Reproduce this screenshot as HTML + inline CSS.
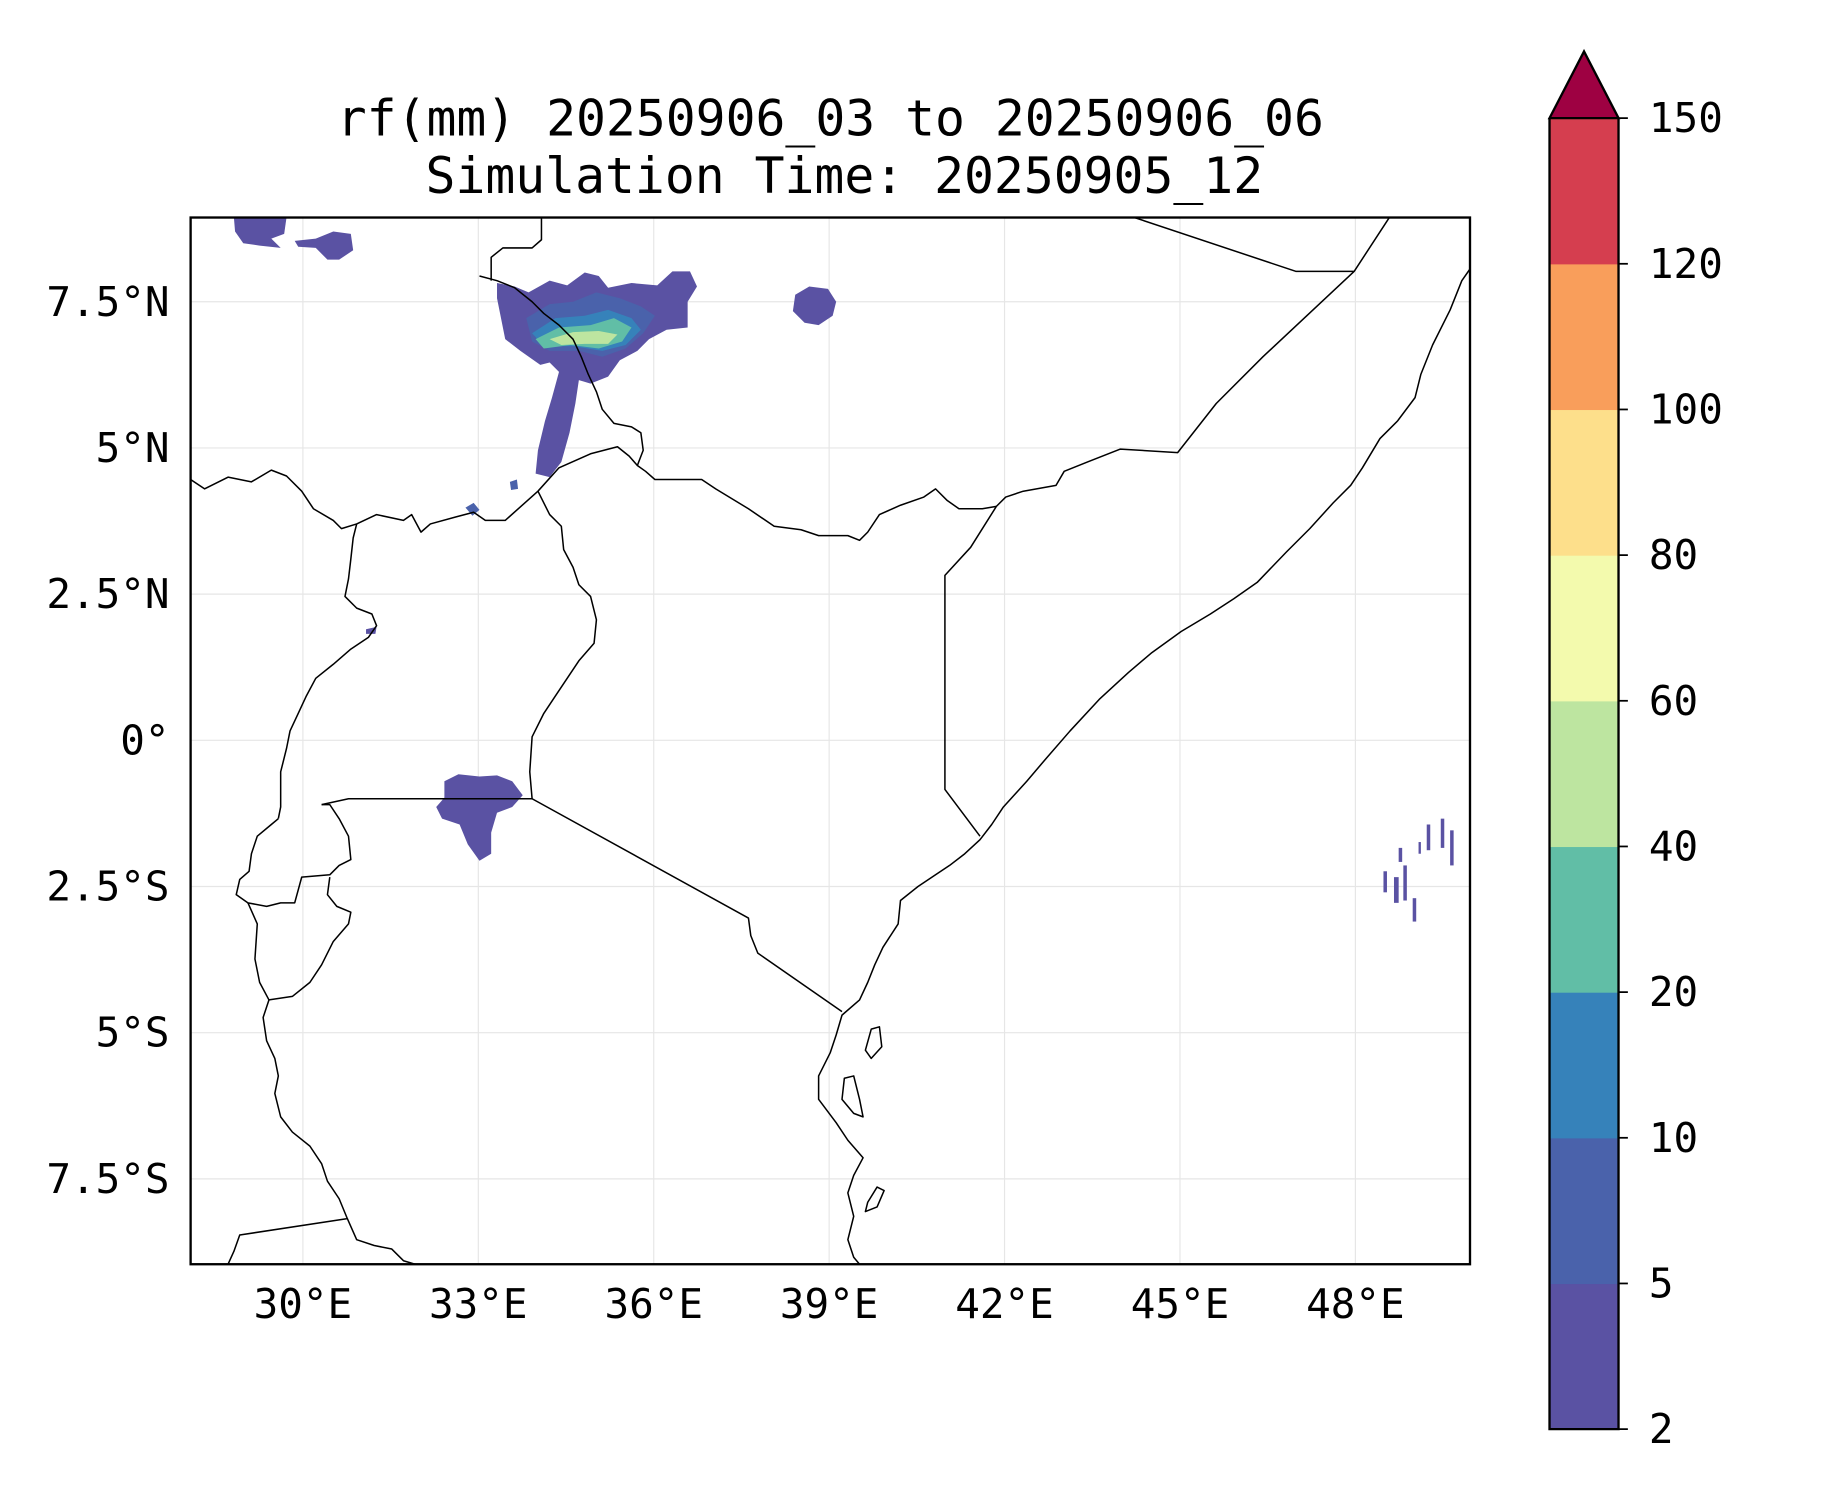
<!DOCTYPE html>
<html><head><meta charset="utf-8"><style>
html,body{margin:0;padding:0;background:#fff;}
svg{display:block;font-family:"DejaVu Sans Mono","Liberation Mono",monospace;}
</style></head><body>
<svg id="fig" width="1833" height="1500" viewBox="0 0 1567.4 1282.6" preserveAspectRatio="none" xmlns="http://www.w3.org/2000/svg">
<rect width="1580" height="1290" fill="#fff"/>
<g font-size="42.5" text-anchor="middle" fill="#000">
<text x="710" y="116">rf(mm) 20250906_03 to 20250906_06</text>
<text x="722" y="165">Simulation Time: 20250905_12</text>
</g>
<defs><clipPath id="mapclip"><rect x="163" y="186" width="1094" height="895"/></clipPath></defs>
<g id="grid" stroke="#e6e6e6" stroke-width="1"></g>
<g clip-path="url(#mapclip)">
<g>
<path fill="#5a52a3" d="M200,186 L245,186 L243,200 L232,204 L240,212 L222,210 L208,208 L201,198Z"/>
<path fill="#5a52a3" d="M252,206 L270,204 L285,198 L300,200 L302,214 L290,222 L280,222 L270,212 L255,211Z"/>
<path fill="#5a52a3" d="M425,242 L440,245 L452,250 L470,240 L485,244 L500,233 L512,236 L520,246 L540,242 L562,244 L575,232 L590,232 L596,245 L588,258 L588,280 L570,282 L555,290 L545,300 L530,308 L520,322 L505,328 L495,325 L492,345 L487,370 L480,395 L470,408 L458,405 L460,385 L466,360 L472,340 L478,318 L470,310 L462,312 L445,300 L432,290 L428,270 L425,255Z"/>
<path fill="#4a62ab" d="M450,272 L470,260 L490,258 L510,250 L530,255 L548,262 L560,270 L550,285 L535,298 L515,305 L495,300 L470,300 L455,292Z"/>
<path fill="#3682ba" d="M455,285 L475,272 L500,270 L520,265 L540,272 L548,282 L535,295 L515,300 L490,296 L465,296Z"/>
<path fill="#61bea6" d="M458,290 L478,280 L505,278 L525,272 L540,280 L532,292 L512,298 L488,295 L465,298Z"/>
<path fill="#bde5a0" d="M470,290 L490,284 L512,283 L528,286 L520,294 L500,294 L480,295Z"/>
<path fill="#5a52a3" d="M680,252 L692,245 L708,247 L715,258 L712,270 L700,278 L688,276 L678,266Z"/>
<path fill="#5a52a3" d="M380,668 L392,662 L410,664 L425,663 L438,668 L447,680 L438,690 L425,695 L420,712 L420,730 L410,736 L400,722 L393,705 L378,700 L373,690 L380,682Z"/>
<path fill="#4a62ab" d="M398,434 L405,430 L410,436 L404,441Z"/>
<path fill="#4a62ab" d="M436,412 L442,410 L443,418 L437,419Z"/>
<path fill="#5a52a3" d="M313,538 L322,536 L321,542 L313,542Z"/>
<g fill="#5a52a3">
<rect x="1183" y="745" width="3" height="18"/><rect x="1192" y="750" width="4" height="22"/><rect x="1200" y="740" width="3" height="30"/><rect x="1208" y="768" width="3" height="20"/><rect x="1220" y="705" width="3" height="22"/><rect x="1232" y="700" width="3" height="25"/><rect x="1240" y="710" width="3" height="30"/><rect x="1196" y="725" width="3" height="12"/><rect x="1213" y="720" width="2" height="10"/>
</g>
</g>
<g fill="none" stroke="#000" stroke-width="1.3" stroke-linejoin="round">
<path d="M1257,230 L1250,240 L1240,265 L1225,295 L1215,320 L1210,340 L1195,360 L1180,375 L1165,400 L1155,415 L1140,430 L1120,452 L1100,472 L1075,498 L1055,512 L1035,525 L1010,540 L985,558 L965,575 L940,598 L915,625 L895,648 L878,668 L858,690 L848,705 L838,718 L825,730 L812,740 L800,748 L785,758 L770,770 L768,790 L755,810 L748,825 L742,840 L735,855 L720,868 L715,885 L710,900 L700,920 L700,940 L715,960 L725,975 L738,990 L730,1005 L725,1020 L730,1040 L725,1060 L730,1075 L735,1081"/>
<path d="M745,880 L752,878 L754,895 L745,905 L740,898Z M722,922 L730,920 L735,940 L738,955 L730,952 L720,940Z M742,1028 L750,1015 L756,1018 L750,1032 L740,1036Z"/>
<path d="M1188,186 L1158,232 L1108,232 L970,186 M1158,232 L1080,305 L1040,345 L1007,387 L958,384 L930,395 L910,403 L903,415 L875,420 L860,425 L852,433 L830,468 L808,492 L808,675 L838,715"/>
<path d="M852,433 L840,435 L820,435 L810,428 L800,418 L790,425 L770,432 L752,440 L742,455 L735,462 L725,458 L700,458 L685,453 L662,450 L640,435 L612,418 L600,410 L560,410 L552,403 L545,398 L538,390 L528,382 L505,388 L478,400 L460,420"/>
<path d="M545,398 L550,385 L548,370 L540,365 L525,362 L515,350 L510,335 L503,320 L497,305 L490,290 L478,278 L465,268 L455,258 L440,246 L425,240 L410,236 M420,240 L420,220 L430,212 L455,212 L463,205 L463,186"/>
<path d="M460,420 L470,440 L480,450 L482,470 L490,485 L495,500 L505,510 L510,530 L508,550 L495,565 L485,580 L475,595 L465,610 L455,630 L453,660 L455,683"/>
<path d="M455,683 L640,785 L642,800 L648,815 L720,865"/>
<path d="M275,688 L298,683 L455,683"/>
<path d="M163,410 L175,418 L195,408 L215,412 L232,402 L245,407 L258,420 L268,435 L285,445 L292,452 L305,448 L322,440 L345,445 L352,440 L360,455 L368,448 L390,442 L405,438 L415,445 L432,445 L460,420"/>
<path d="M305,448 L302,460 L300,478 L298,495 L295,510 L305,520 L318,525 L322,535 L315,545 L300,555 L285,568 L270,580 L262,595 L255,610 L248,625 L245,640 L240,660 L240,690 L238,700"/>
<path d="M238,700 L232,705 L220,715 L215,730 L213,745 L205,752 L202,765 L212,772 L228,775 L240,772 L252,772 L258,750 L282,748 L290,740 L300,735 L298,715 L290,700 L282,688 L275,688 M282,750 L280,765 L288,775 L300,780 L298,790 L285,805 L275,825 L265,840 L250,852 L230,855"/>
<path d="M212,772 L220,790 L218,820 L222,840 L230,855 L225,870 L228,890 L235,905 L238,920 L235,935 L240,955 L250,968 L265,980 L275,995 L280,1010 L290,1025 L297,1042 L305,1060 L320,1065 L335,1068 L345,1078 L355,1081 M297,1042 L205,1056 L200,1070 L195,1081"/>
</g>
</g>
<rect x="163" y="186" width="1094" height="895" fill="none" stroke="#000" stroke-width="2"/>
<g id="xticks" font-size="35" text-anchor="middle"></g>
<g id="yticks" font-size="35" text-anchor="end"></g>
<g id="cbar" font-size="35"></g>
</svg>
<script>
const lonTicks=[30,33,36,39,42,45,48];
const lonLabels=["30°E","33°E","36°E","39°E","42°E","45°E","48°E"];
const latTicks=[7.5,5,2.5,0,-2.5,-5,-7.5];
const latLabels=["7.5°N","5°N","2.5°N","0°","2.5°S","5°S","7.5°S"];
const cbLevels=[2,5,10,20,40,60,80,100,120,150];
const cbColors=["#5a52a3","#4a62ab","#3682ba","#61bea6","#bde5a0","#f3faad","#fddf8b","#f99e5b","#d53e4f"];
const extendColor="#9e0142";
const NS="http://www.w3.org/2000/svg";
const X0=163,X1=1257,Y0=186,Y1=1081,LON0=28.08,LON1=49.96,LAT0=8.94,LAT1=-8.96;
function xs(lon){return X0+(lon-LON0)/(LON1-LON0)*(X1-X0);}
function ys(lat){return Y0+(lat-LAT0)/(LAT1-LAT0)*(Y1-Y0);}
function mk(tag,attrs,parent){const e=document.createElementNS(NS,tag);for(const k in attrs)e.setAttribute(k,attrs[k]);parent.appendChild(e);return e;}
const grid=document.getElementById('grid'),xt=document.getElementById('xticks'),yt=document.getElementById('yticks'),cb=document.getElementById('cbar');
lonTicks.forEach((v,i)=>{
 const l=mk('line',{x1:xs(v),x2:xs(v),y1:Y0,y2:Y1},grid);
 
 
 const t=mk('text',{x:xs(v),y:1127},xt);t.textContent=lonLabels[i];
 
 
});
latTicks.forEach((v,i)=>{
 const l=mk('line',{x1:X0,x2:X1,y1:ys(v),y2:ys(v)},grid);
 
 
 const t=mk('text',{x:145,y:ys(v)+12},yt);t.textContent=latLabels[i];
 
 
});
const CX0=1325,CX1=1384,CT=101,CB=1222,n=cbLevels.length-1,step=(CB-CT)/n;
function cy(i){return CB-i*step;}
cbColors.forEach((c,i)=>{
 const r=mk('rect',{x:CX0,y:cy(i+1),width:CX1-CX0,height:step+0.5,fill:c},cb);
 
 
});
const tri=mk('path',{d:`M${CX0},${CT} L${(CX0+CX1)/2},44 L${CX1},${CT}Z`,fill:extendColor,stroke:'#000','stroke-width':2},cb);


const fr=mk('path',{d:`M${CX0},${CT} L${CX0},${CB} L${CX1},${CB} L${CX1},${CT}`,fill:'none',stroke:'#000','stroke-width':2},cb);


cbLevels.forEach((v,i)=>{
 const tk=mk('line',{x1:CX1,x2:CX1+8,y1:cy(i),y2:cy(i),stroke:'#000','stroke-width':1.5},cb);
 
 
 const t=mk('text',{x:1410,y:cy(i)+12},cb);t.textContent=String(v);
 
 
});
</script>
</body></html>
